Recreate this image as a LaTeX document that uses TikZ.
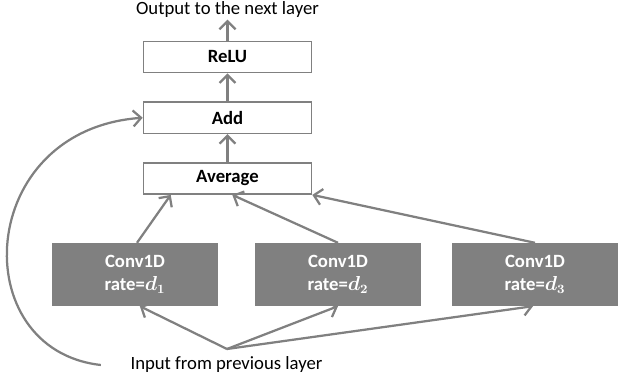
\documentclass[tikz,border=0pt]{standalone}
\usepackage{fontspec}
\setmainfont{Carlito}
\usetikzlibrary{arrows.meta, positioning, calc}

\definecolor{boxgray}{RGB}{128,128,128}
\newcommand{\labelsize}{\fontsize{13.3}{16}\selectfont}

\begin{document}
\begin{tikzpicture}[
    x=0.025cm, y=-0.025cm,
    node distance = 0.7cm,
    op/.style = {rectangle, draw=boxgray, line width=1.1pt, fill=white, minimum width=4.2cm, minimum height=0.78cm, font=\bfseries\labelsize, inner sep=0pt},
    conv/.style = {rectangle, fill=boxgray, text=white, minimum width=4.15cm, minimum height=1.57cm, align=center, font=\bfseries\boldmath\labelsize, inner sep=0pt},
    lbl/.style = {font=\labelsize, inner sep=1pt},
    line/.style = {draw=boxgray, line width=1.6pt, -{Straight Barb[length=2mm, width=4mm, line width=1.6pt]}}
]
    \useasboundingbox (0,0) rectangle (619,379);

    % Nodes - main column
    \node (avg) [op] at (227.5,178.5) {Average};
    \node (add) [op, above=of avg] {Add};
    \node (relu) [op, above=of add] {ReLU};
    \node (out) [lbl] at (227.5,10) {Output to the next layer};

    % Dilated convolutions
    \node (conv1) [conv] at (135,274.5) {Conv1D\\rate=$d_1$};
    \node (conv2) [conv] at (338,274.5) {Conv1D\\rate=$d_2$};
    \node (conv3) [conv] at (535,274.5) {Conv1D\\rate=$d_3$};

    % Input
    \node (inp) [lbl] at (226.5,365) {Input from previous layer};
    \coordinate (hub) at (227,349);

    % Edges - main flow
    \path [line] (relu) -- (out);
    \path [line] (add) -- (relu);
    \path [line] (avg) -- (add);

    % Convolutions into the average
    \path [line] (conv1.north) ++(2,0) -- ([xshift=0.7cm]avg.south west);
    \path [line] (conv2.north) -- ([xshift=0.12cm]avg.south);
    \path [line] (conv3.north) -- (avg.south east);

    % Input fan-out
    \path [line] (hub) -- ([xshift=0.12cm]conv1.south);
    \path [line] (hub) -- (conv2.south);
    \path [line] (hub) -- ([xshift=-0.05cm]conv3.south);

    % Residual connection
    \path [line] ([xshift=-0.7cm]inp.west) .. controls (-35,350) and (-25,130) .. (add.west);
\end{tikzpicture}
\end{document}
